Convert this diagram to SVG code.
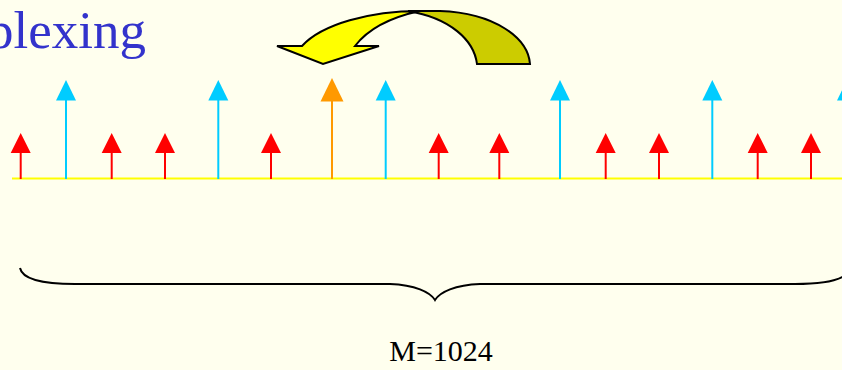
<svg xmlns="http://www.w3.org/2000/svg" width="842" height="370" viewBox="0 0 842 370">
<style>
.stem{stroke-width:2;fill:none}
.r{stroke:#FF0000;fill:#FF0000}
.b{stroke:#00CCFF;fill:#00CCFF}
.o{stroke:#FF9900;fill:#FF9900}
.hd{stroke:none}
.outline{stroke:#000;stroke-width:2;stroke-linejoin:miter}
.serif{font-family:"Liberation Serif","Times New Roman",serif}
</style>
<defs>
<g id="redArrow"><line class="stem r" x1="0" y1="152" x2="0" y2="179"/><polygon class="hd r" points="-10,153 0,133 10,153"/></g>
<g id="blueArrow"><line class="stem b" x1="0" y1="99" x2="0" y2="179"/><polygon class="hd b" points="-10,100.5 0,80 10,100.5"/></g>
</defs>
<rect width="842" height="370" fill="#FFFFEE"/>
<g id="title"><text class="serif" x="146" y="48" font-size="53" fill="#3333CC" text-anchor="end">plexing</text></g>
<g id="curved-arrow">
<path class="outline" fill="#CCCC00" d="M 408,11 L 440,11 C 495,13 528,38 530,64 L 477,64 C 474,40 450,18 408,11 Z"/>
<path class="outline" fill="#FFFF00" d="M 420,11 C 370,11 322,24 302,46 L 277,46 L 323,64 L 379,46 L 355,46 C 368,29 392,17 420,11 Z"/>
</g>
<g id="axis"><line x1="12" y1="178.5" x2="842" y2="178.5" stroke="#FFFF00" stroke-width="2"/></g>
<g id="arrows">
<use id="r1" href="#redArrow" x="20.7"/>
<use id="b1" href="#blueArrow" x="66"/>
<use id="r2" href="#redArrow" x="111.7"/>
<use id="r3" href="#redArrow" x="165"/>
<use id="b2" href="#blueArrow" x="218.3"/>
<use id="r4" href="#redArrow" x="271"/>
<g id="o1"><line class="stem o" x1="332" y1="100" x2="332" y2="179"/><polygon class="hd o" points="320.5,101.5 332,78 343.5,101.5"/></g>
<use id="b3" href="#blueArrow" x="385.7"/>
<use id="r5" href="#redArrow" x="438.7"/>
<use id="r6" href="#redArrow" x="499.3"/>
<use id="b4" href="#blueArrow" x="560"/>
<use id="r7" href="#redArrow" x="605.7"/>
<use id="r8" href="#redArrow" x="659"/>
<use id="b5" href="#blueArrow" x="712.3"/>
<use id="r9" href="#redArrow" x="757.7"/>
<use id="r10" href="#redArrow" x="811"/>
<use id="b6" href="#blueArrow" x="847"/>
</g>
<g id="brace"><path d="M 20,268 C 22,278 40,284 75,284 L 390,284 C 415,285 430,292 435,300 C 440,292 455,285 480,284 L 795,284 C 830,284 848,278 850,268" fill="none" stroke="#000" stroke-width="2"/></g>
<g id="label"><text class="serif" x="441" y="361" font-size="30" fill="#000" text-anchor="middle">M=1024</text></g>
</svg>
